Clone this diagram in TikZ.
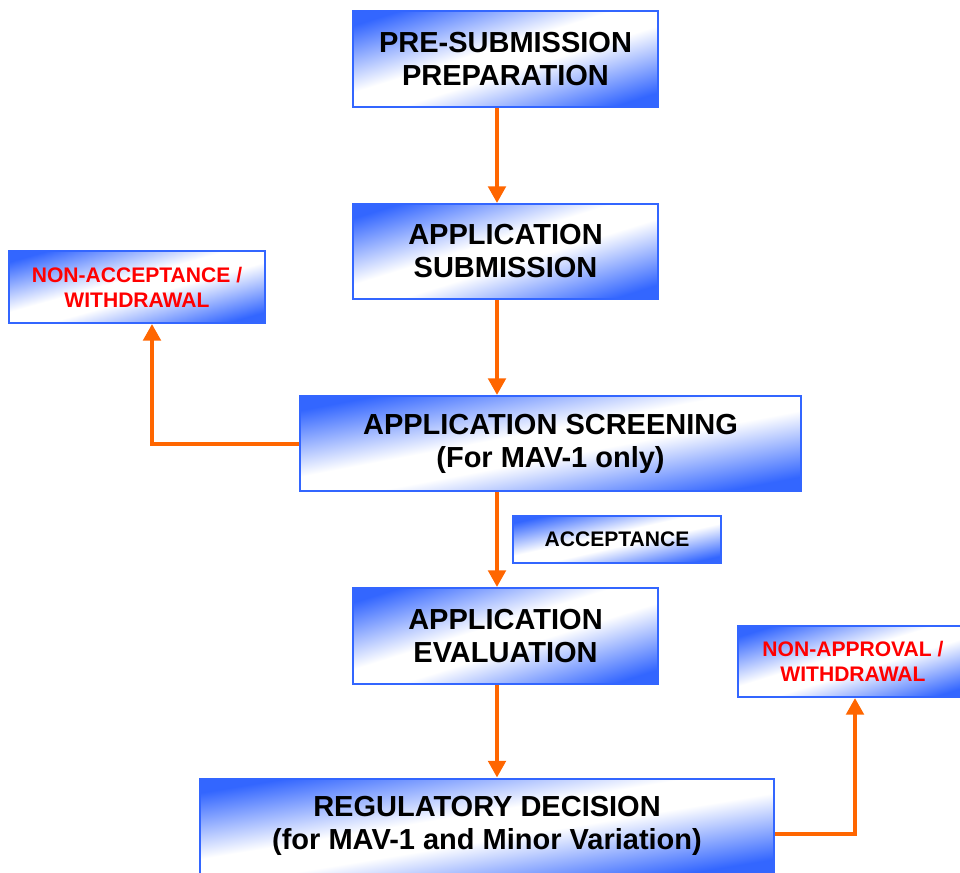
\documentclass[tikz,border=0pt]{standalone}
\usepackage{fontspec}
\setmainfont{Liberation Sans}
\usetikzlibrary{positioning, arrows.meta, calc}
\definecolor{boxblue}{RGB}{51,102,255}
\definecolor{floworange}{RGB}{255,102,0}
\definecolor{rejectred}{RGB}{255,0,0}
% blue in the top left and bottom right corners, white along the other diagonal
\pgfdeclarefunctionalshading{stageshade}{\pgfpoint{0bp}{0bp}}{\pgfpoint{100bp}{100bp}}{}{
  sub abs 50 div
  0.15 sub 0.7 div
  dup 0 lt {pop 0} if
  dup 1 gt {pop 1} if
  dup 0.8 mul 1 exch sub
  exch 0.6 mul 1 exch sub
  1
}

\begin{document}
\begin{tikzpicture}[x=0.75pt, y=-0.75pt]

              \tikzset{
                stagenode/.style={
                    shape=rectangle,
                    draw=boxblue,
                    line width=1.5pt,
                    shade,
                    shading=stageshade,
                    inner sep=0pt,
                    align=center,
                    font=\fontsize{21.75}{24.75}\selectfont\bfseries
                  },
                smallnode/.style={
                    stagenode,
                    font=\fontsize{15.8}{18.75}\selectfont\bfseries
                  },
                flow/.style={
                    draw=floworange,
                    line width=3pt,
                    -{Triangle[length=12.5pt, width=13pt]}
                  }
              }
              \useasboundingbox (0,0) rectangle (960,872);

              \coordinate (spine) at (497,0);
              \coordinate (lbend) at (152,443.5);
              \coordinate (rbend) at (855,834);

              \node[stagenode, minimum width=228.75pt, minimum height=72pt] (prep) at (505.5,59) {PRE-SUBMISSION\\PREPARATION};
              \node[stagenode, minimum width=228.75pt, minimum height=71.25pt] (subm) at (505.5,251.5) {APPLICATION\\SUBMISSION};
              \node[smallnode, minimum width=192pt, minimum height=54pt, text=rejectred] (nacc) at (137,287) {NON-ACCEPTANCE /\\WITHDRAWAL};
              \node[stagenode, minimum width=375.75pt, minimum height=71.25pt] (scrn) at (550.5,443.5) {APPLICATION SCREENING\\(For MAV-1 only)};
              \node[smallnode, minimum width=156pt, minimum height=35.25pt] (acpt) at (617,539.5) {ACCEPTANCE};
              \node[stagenode, minimum width=228.75pt, minimum height=72pt] (eval) at (505.5,636) {APPLICATION\\EVALUATION};
              \node[smallnode, minimum width=172.5pt, minimum height=53.25pt, text=rejectred] (napp) at (853,661.5) {NON-APPROVAL /\\WITHDRAWAL};
              \node[stagenode, minimum width=430.5pt, minimum height=71.25pt] (decn) at (487,826) {REGULATORY DECISION\\(for MAV-1 and Minor Variation)};

              % main flow
              \draw[flow] (prep.south -| spine) -- (subm.north -| spine);
              \draw[flow] (subm.south -| spine) -- (scrn.north -| spine);
              \draw[flow] (scrn.south -| spine) -- (eval.north -| spine);
              \draw[flow] (eval.south -| spine) -- (decn.north -| spine);

              % side exits
              \draw[flow] (scrn.west) -| (nacc.south -| lbend);
              \draw[flow] (decn.east |- rbend) -| (napp.south -| rbend);

            \end{tikzpicture}
\end{document}
